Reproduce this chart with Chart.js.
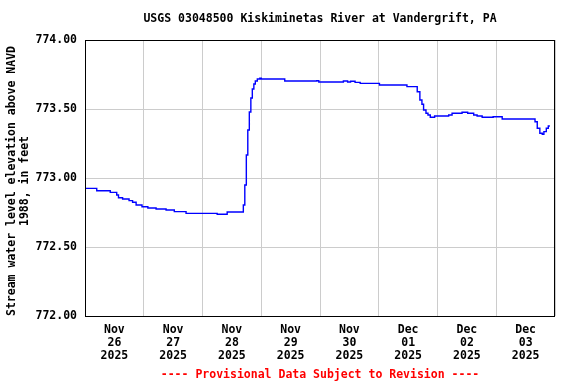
<!DOCTYPE html>
<html>
<head>
<meta charset="utf-8">
<script src="https://cdn.jsdelivr.net/npm/chart.js@4.4.1/dist/chart.umd.min.js"></script>
<style>
  html, body { margin: 0; padding: 0; background: #fff; }
  #wrap { width: 576px; height: 384px; }
</style>
</head>
<body>
<div id="wrap"><canvas id="chart" width="576" height="384"></canvas></div>
<script>
// time in days since Nov 26 2025 00:00, gage reading (ft above NAVD 1988)
const days = [
    0.00, 0.20, 0.43, 0.54, 0.57, 0.64, 0.75, 0.81, 0.87, 0.97,
    1.07, 1.21, 1.38, 1.52, 1.72, 2.25, 2.42,
    2.695, 2.72, 2.746, 2.771, 2.797, 2.823, 2.848, 2.874, 2.899, 2.933, 2.976, 3.00,
    3.40, 3.944, 3.98, 4.398, 4.47, 4.52, 4.597, 4.684, 5.012, 5.48,
    5.655, 5.70, 5.735, 5.763, 5.804, 5.838, 5.877, 5.951,
    6.19, 6.248, 6.418, 6.514, 6.616, 6.674, 6.760, 6.947, 7.101,
    7.66, 7.698, 7.742, 7.783, 7.811, 7.852, 7.886, 7.913
];
const elevation = [
    772.911, 772.925, 772.908, 772.896, 772.877, 772.857, 772.848, 772.836, 772.824, 772.804,
    772.792, 772.783, 772.775, 772.768, 772.756, 772.744, 772.737,
    772.754, 772.804, 772.949, 773.167, 773.348, 773.478, 773.580, 773.645, 773.681, 773.703, 773.717, 773.724,
    773.717, 773.703, 773.705, 773.696, 773.703, 773.696, 773.701, 773.693, 773.686, 773.674,
    773.662, 773.625, 773.565, 773.534, 773.493, 773.469, 773.457, 773.440,
    773.449, 773.457, 773.469, 773.476, 773.469, 773.457, 773.449, 773.440, 773.444,
    773.428, 773.408, 773.360, 773.324, 773.317, 773.336, 773.360, 773.377
];

const yTicks = [772.0, 772.5, 773.0, 773.5, 774.0];
const dayLabels = [
    ['Nov', '26', '2025'], ['Nov', '27', '2025'], ['Nov', '28', '2025'], ['Nov', '29', '2025'],
    ['Nov', '30', '2025'], ['Dec', '01', '2025'], ['Dec', '02', '2025'], ['Dec', '03', '2025']
];

const titleText = 'USGS 03048500 Kiskiminetas River at Vandergrift, PA';
const yTitle = ['Stream water level elevation above NAVD', '1988, in feet'];
const footerText = '---- Provisional Data Subject to Revision ----';

const MONO = "'DejaVu Sans Mono', 'Liberation Mono', monospace";

const textPlugin = {
    id: 'usgsText',
    afterDatasetsDraw(chart) {
        const { ctx, chartArea: a } = chart;
        ctx.save();
        ctx.strokeStyle = '#000';
        ctx.lineWidth = 1;
        ctx.strokeRect(a.left + 0.5, a.top + 0.5, a.right - a.left - 1, a.bottom - a.top);
        ctx.restore();
    },
    afterDraw(chart) {
        const { ctx, chartArea: a } = chart;
        const cx = (a.left + a.right) / 2;
        ctx.save();
        ctx.font = 'bold 11.5px ' + MONO;
        ctx.textAlign = 'center';
        ctx.textBaseline = 'middle';
        ctx.fillStyle = '#000';
        ctx.fillText(titleText, cx, 19);

        // rotated y axis title, two lines
        ctx.save();
        ctx.translate(12, 181);
        ctx.rotate(-Math.PI / 2);
        ctx.fillText(yTitle[0], 0, 0);
        ctx.fillText(yTitle[1], 0, 13);
        ctx.restore();

        ctx.fillStyle = '#ff0000';
        ctx.fillText(footerText, cx, 375);
        ctx.restore();
    }
};

new Chart(document.getElementById('chart'), {
    type: 'line',
    data: {
        datasets: [{
            data: days.map((d, i) => ({ x: d, y: elevation[i] })),
            borderColor: '#0000ff',
            borderWidth: 1.4,
            pointRadius: 0,
            stepped: 'after',
            fill: false
        }]
    },
    options: {
        responsive: false,
        animation: false,
        events: [],
        layout: { padding: { top: 40, right: 21, left: 0, bottom: 0 } },
        plugins: {
            legend: { display: false },
            tooltip: { enabled: false },
            title: { display: false }
        },
        scales: {
            x: {
                type: 'linear',
                position: 'bottom',
                min: 0,
                max: 8,
                afterBuildTicks: (s) => { s.ticks = [0, 1, 2, 3, 4, 5, 6, 7, 8].map(v => ({ value: v })); },
                afterFit: (s) => { s.height = 0; },
                ticks: { display: false },
                grid: { color: '#cccccc', lineWidth: 1, drawTicks: false },
                border: { display: false }
            },
            xl: {
                type: 'linear',
                position: 'bottom',
                min: 0,
                max: 8,
                afterBuildTicks: (s) => { s.ticks = dayLabels.map((_, i) => ({ value: i + 0.5 })); },
                afterFit: (s) => { s.height = 68; },
                grid: { display: false, drawTicks: false },
                border: { display: false },
                ticks: {
                    maxRotation: 0,
                    autoSkip: false,
                    padding: 8,
                    color: '#000',
                    font: { family: MONO, size: 11.5, weight: 'bold', lineHeight: '13px' },
                    callback: (v) => dayLabels[Math.floor(v)]
                }
            },
            y: {
                type: 'linear',
                min: 772,
                max: 774,
                afterBuildTicks: (s) => { s.ticks = yTicks.map(v => ({ value: v })); },
                afterFit: (s) => { s.width = 85; },
                grid: { color: '#cccccc', lineWidth: 1, drawTicks: false },
                border: { display: false },
                ticks: {
                    padding: 8,
                    color: '#000',
                    font: { family: MONO, size: 11.5, weight: 'bold' },
                    callback: (v) => v.toFixed(2)
                }
            }
        }
    },
    plugins: [textPlugin]
});
</script>
</body>
</html>
